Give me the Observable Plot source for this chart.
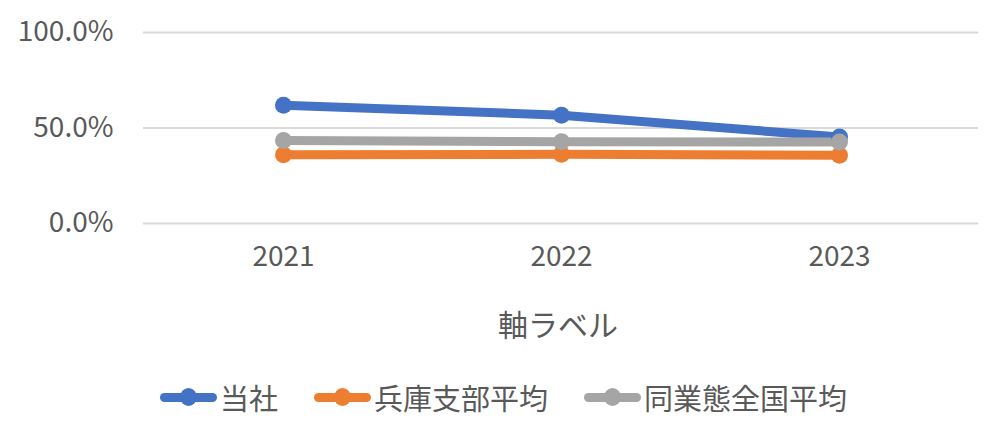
<!DOCTYPE html>
<html>
<head>
<meta charset="utf-8">
<script src="https://cdn.jsdelivr.net/npm/d3@7"></script>
<script src="https://cdn.jsdelivr.net/npm/@observablehq/plot@0.6"></script>
<style>
  html, body { margin: 0; padding: 0; background: #fff; }
  body { width: 1007px; height: 443px; overflow: hidden; font-family: "Noto Sans CJK JP", "Noto Sans", sans-serif; }
  #legend { height: 84px; display: flex; justify-content: center; align-items: center; color: #595959; font-size: 29px; }
  .item { display: flex; align-items: center; margin: 0 18px; }
  .sw { position: relative; width: 57px; height: 18px; margin-right: 3px; }
  .sw .ln { position: absolute; left: 0; right: 0; top: 4.5px; height: 9px; border-radius: 4.5px; }
  .sw .dt { position: absolute; left: 20px; top: 0; width: 17px; height: 18px; border-radius: 50%; }
</style>
</head>
<body>
<div id="chart"></div>
<div id="legend"></div>
<script>
const years = ["2021", "2022", "2023"];
const seriesNames = ["当社", "兵庫支部平均", "同業態全国平均"];
const seriesColors = ["#4472C4", "#ED7D31", "#A5A5A5"];
const company = [0.619, 0.567, 0.453];
const hyogo = [0.360, 0.362, 0.357];
const national = [0.435, 0.428, 0.427];
const yTicks = [0, 0.5, 1];
const axisTitle = "軸ラベル";

const seriesValues = [company, hyogo, national];
const data = [];
seriesNames.forEach((s, i) => years.forEach((y, j) => data.push({series: s, year: y, value: seriesValues[i][j]})));

const chart = Plot.plot({
  width: 1007,
  height: 355,
  marginLeft: 143,
  marginRight: 29,
  marginTop: 32,
  marginBottom: 132,
  style: {fontFamily: '"Noto Sans CJK JP", "Noto Sans", sans-serif', color: "#595959", background: "#fff"},
  x: {type: "point", domain: years, padding: 0.5},
  y: {domain: [0, 1]},
  color: {domain: seriesNames, range: seriesColors},
  marks: [
    Plot.ruleY(yTicks, {stroke: "#d9d9d9", strokeWidth: 2}),
    Plot.axisY({ticks: yTicks, tickFormat: d3.format(".1%"), tickSize: 0, tickPadding: 30, fontSize: 28, label: null, fill: "#595959"}),
    Plot.axisX({tickSize: 0, tickPadding: 23, fontSize: 28, label: axisTitle, labelAnchor: "center", labelOffset: 112, fill: "#595959"}),
    Plot.line(data, {x: "year", y: "value", z: "series", stroke: "series", strokeWidth: 9, strokeLinecap: "round"}),
    Plot.dot(data, {x: "year", y: "value", fill: "series", r: 8.5})
  ]
});
d3.select(chart).selectAll("g[aria-label='x-axis label'] text").attr("font-size", 30).attr("dx", -3);
document.getElementById("chart").appendChild(chart);

const legend = d3.select("#legend");
seriesNames.forEach((s, i) => {
  const it = legend.append("div").attr("class", "item");
  const sw = it.append("div").attr("class", "sw");
  sw.append("div").attr("class", "ln").style("background", seriesColors[i]);
  sw.append("div").attr("class", "dt").style("background", seriesColors[i]);
  it.append("span").text(s);
});
</script>
</body>
</html>
